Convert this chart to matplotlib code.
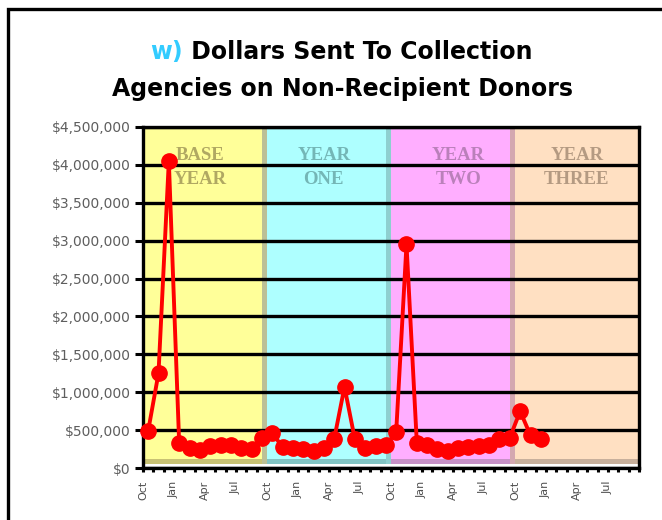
import numpy as np
import matplotlib
matplotlib.use("Agg")
import matplotlib.pyplot as plt
from matplotlib.patches import Rectangle

# monthly dollars sent to collection, starting Oct of the base year
base_year  = [490e3, 1.25e6, 4.05e6, 330e3, 270e3, 240e3, 290e3, 300e3, 310e3, 260e3, 250e3, 400e3]
year_one   = [460e3, 280e3, 260e3, 250e3, 230e3, 260e3, 380e3, 1.07e6, 380e3, 270e3, 290e3, 300e3]
year_two   = [470e3, 2.95e6, 330e3, 300e3, 250e3, 230e3, 260e3, 280e3, 290e3, 300e3, 380e3, 400e3]
year_three = [750e3, 430e3, 380e3]

band_names  = ["BASE\nYEAR", "YEAR\nONE", "YEAR\nTWO", "YEAR\nTHREE"]
tick_months = ["Oct", "Jan", "Apr", "Jul"] * 4
y_ticks     = np.arange(0, 4.5e6 + 1, 5e5)

band_fill  = ["#FFFF99", "#AEFFFF", "#FFAEFF", "#FFE0C2"]
band_floor = ["#C8C274", "#82C4C4", "#C892C8", "#C8B09C"]
band_edge  = ["#BCC096", "#8ED0D0", "#D4A8B0"]
band_text  = ["#B0A862", "#74B6B6", "#BA80BA", "#B49A82"]
label_x    = [5.5, 17.5, 30.5, 42.0]

values = base_year + year_one + year_two + year_three
months = np.arange(len(values)) + 0.5

fig = plt.figure(figsize=(6.62, 5.2), dpi=100)
ax = fig.add_axes([143/662, 1 - 468/520, (639-143)/662, (468-127)/520])

ymax = 4.5e6
for i in range(4):
    x0 = i * 12
    ax.add_patch(Rectangle((x0, 53e3), 12, ymax - 53e3, facecolor=band_fill[i],
                           edgecolor="none", zorder=0.5))
    ax.add_patch(Rectangle((x0, 53e3), 12, 66e3, facecolor=band_floor[i],
                           edgecolor="none", zorder=0.6))
    if i < 3:
        ax.add_patch(Rectangle((x0 + 11.5, 53e3), 0.5, ymax - 53e3, facecolor=band_edge[i],
                               edgecolor="none", zorder=0.6))
    word1, word2 = band_names[i].split("\n")
    ax.text(label_x[i], 4.13e6, word1, ha="center", va="center", color=band_text[i],
            fontsize=13.5, fontweight="bold", family="Liberation Serif", zorder=0.8)
    ax.text(label_x[i], 3.81e6, word2, ha="center", va="center", color=band_text[i],
            fontsize=13.5, fontweight="bold", family="Liberation Serif", zorder=0.8)

ax.plot(months, values, color="#FF0000", lw=2.8, marker="o", ms=11,
        markeredgecolor="#FF0000", zorder=3, clip_on=False)

ax.set_xlim(0, 48)
ax.set_ylim(0, ymax)

ax.set_yticks(y_ticks)
ax.set_yticklabels([f"${v:,.0f}" for v in y_ticks], fontsize=10, color="#5E5E5E")
ax.set_xticks(np.arange(0, 48, 3))
ax.set_xticks(np.arange(0, 49, 1), minor=True)
ax.set_xticklabels(tick_months, rotation=90, fontsize=8, color="#4E4E4E")

ax.yaxis.grid(True, color="black", lw=2.4)
ax.tick_params(axis="y", direction="out", length=6, width=2.2, pad=3)
ax.tick_params(axis="x", which="both", direction="out", length=3, width=2.2, pad=6)
for s in ax.spines.values():
    s.set_linewidth(2.4)
    s.set_color("black")

# title, first word coloured; line 1 centred as a whole
tfont = dict(fontsize=17, fontweight="bold", family="DejaVu Sans")
t1 = fig.text(0, 1 - 52/520, "w)", color="#33CCFF", va="center", ha="left", **tfont)
t2 = ax.annotate(" Dollars Sent To Collection", xy=(1, 0.5), xycoords=t1, va="center",
                 ha="left", color="black", annotation_clip=False, **tfont)
fig.canvas.draw()
r = fig.canvas.get_renderer()
w_total = t1.get_window_extent(r).width + t2.get_window_extent(r).width
t1.set_x((341 - w_total / 2) / 662)
fig.text(342/662, 1 - 89/520, "Agencies on Non-Recipient Donors", ha="center", va="center",
         color="black", **tfont)

# outer frame, cut off on the right and bottom like the source
fig.add_artist(Rectangle((8/662, -0.2), 1.2, 1.2 - 8.5/520, transform=fig.transFigure,
                         fill=False, edgecolor="black", lw=2.4, clip_on=False))

fig.savefig("out.png", dpi=100)
